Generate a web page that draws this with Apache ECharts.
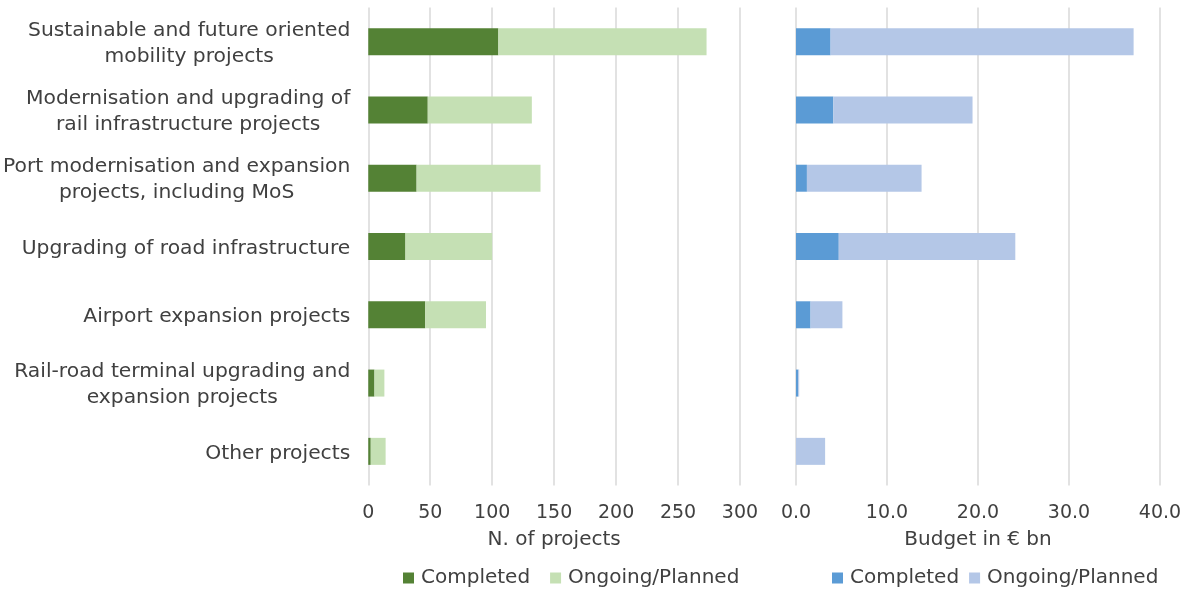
<!DOCTYPE html>
<html>
<head>
<meta charset="utf-8">
<script src="https://cdn.jsdelivr.net/npm/echarts@6/dist/echarts.min.js"></script>
<style>
html,body{margin:0;padding:0;background:#fff;}
#chart{width:1186px;height:589px;}
</style>
</head>
<body>
<div id="chart"></div>
<script>
const categories = [
  'Sustainable and future oriented\nmobility projects',
  'Modernisation and upgrading of\nrail infrastructure projects',
  'Port modernisation and expansion\nprojects, including MoS',
  'Upgrading of road infrastructure',
  'Airport expansion projects',
  'Rail-road terminal upgrading and\nexpansion projects',
  'Other projects'
];
const projectsCompleted = [105, 48, 39, 30, 46, 5, 2];
const projectsOngoing = [168, 84, 100, 70, 49, 8, 12];
const budgetCompleted = [3.8, 4.1, 1.2, 4.7, 1.6, 0.25, 0];
const budgetOngoing = [33.3, 15.3, 12.6, 19.4, 3.5, 0.1, 3.2];
const projectTicks = [0, 50, 100, 150, 200, 250, 300];
const budgetTicks = [0, 10, 20, 30, 40];

const FONT = 'DejaVu Sans';
const TXT = '#404040';
const GRIDC = '#d9d9d9';

const chart = echarts.init(document.getElementById('chart'), null, {renderer: 'canvas'});

const catAxisBase = {
  type: 'category',
  data: categories,
  inverse: true,
  axisLine: {show: false},
  axisTick: {show: false},
  splitLine: {show: false}
};

const valAxisBase = {
  type: 'value',
  axisLine: {show: false},
  axisTick: {show: false},
  splitLine: {show: true, lineStyle: {color: GRIDC, width: 1.5}},
  nameLocation: 'middle',
  nameGap: 44,
  nameTextStyle: {fontFamily: FONT, fontSize: 20, color: TXT},
  axisLabel: {fontFamily: FONT, fontSize: 19, color: TXT, margin: 18}
};

chart.setOption({
  animation: false,
  backgroundColor: '#ffffff',
  textStyle: {fontFamily: FONT},
  grid: [
    {left: 368, width: 372, top: 7.5, height: 478},
    {left: 796, width: 364, top: 7.5, height: 478}
  ],
  xAxis: [
    Object.assign({}, valAxisBase, {
      gridIndex: 0, min: projectTicks[0], max: projectTicks[projectTicks.length - 1], interval: 50,
      name: 'N. of projects'
    }),
    Object.assign({}, valAxisBase, {
      gridIndex: 1, min: budgetTicks[0], max: budgetTicks[budgetTicks.length - 1], interval: 10,
      name: 'Budget in € bn',
      axisLabel: Object.assign({}, valAxisBase.axisLabel, {formatter: v => v.toFixed(1)})
    })
  ],
  yAxis: [
    Object.assign({}, catAxisBase, {
      gridIndex: 0,
      axisLabel: {
        align: 'right',
        margin: 18,
        padding: [4, 0, 0, 0],
        formatter: v => v.split('\n').map(l => '{c|' + l + '}').join('\n'),
        rich: {c: {align: 'center', fontFamily: FONT, fontSize: 20.3, lineHeight: 26, color: TXT}}
      }
    }),
    Object.assign({}, catAxisBase, {gridIndex: 1, axisLabel: {show: false}})
  ],
  legend: [
    {
      left: 398, top: 563, itemWidth: 11, itemHeight: 11, itemGap: 20, icon: 'rect',
      data: ['Completed', 'Ongoing/Planned'],
      textStyle: {fontFamily: FONT, fontSize: 20, color: TXT, padding: [0, 0, 0, 2]}
    },
    {
      left: 827, top: 563, itemWidth: 11, itemHeight: 11, itemGap: 10, icon: 'rect',
      data: ['Completed ', 'Ongoing/Planned '],
      formatter: n => n.trim(),
      textStyle: {fontFamily: FONT, fontSize: 20, color: TXT, padding: [0, 0, 0, 2]}
    }
  ],
  series: [
    {name: 'Completed', type: 'bar', stack: 'p', xAxisIndex: 0, yAxisIndex: 0, barWidth: 27,
     itemStyle: {color: '#548235'}, data: projectsCompleted},
    {name: 'Ongoing/Planned', type: 'bar', stack: 'p', xAxisIndex: 0, yAxisIndex: 0, barWidth: 27,
     itemStyle: {color: '#c5e0b4'}, data: projectsOngoing},
    {name: 'Completed ', type: 'bar', stack: 'b', xAxisIndex: 1, yAxisIndex: 1, barWidth: 27,
     itemStyle: {color: '#5b9bd5'}, data: budgetCompleted},
    {name: 'Ongoing/Planned ', type: 'bar', stack: 'b', xAxisIndex: 1, yAxisIndex: 1, barWidth: 27,
     itemStyle: {color: '#b4c7e7'}, data: budgetOngoing}
  ]
});
</script>
</body>
</html>
